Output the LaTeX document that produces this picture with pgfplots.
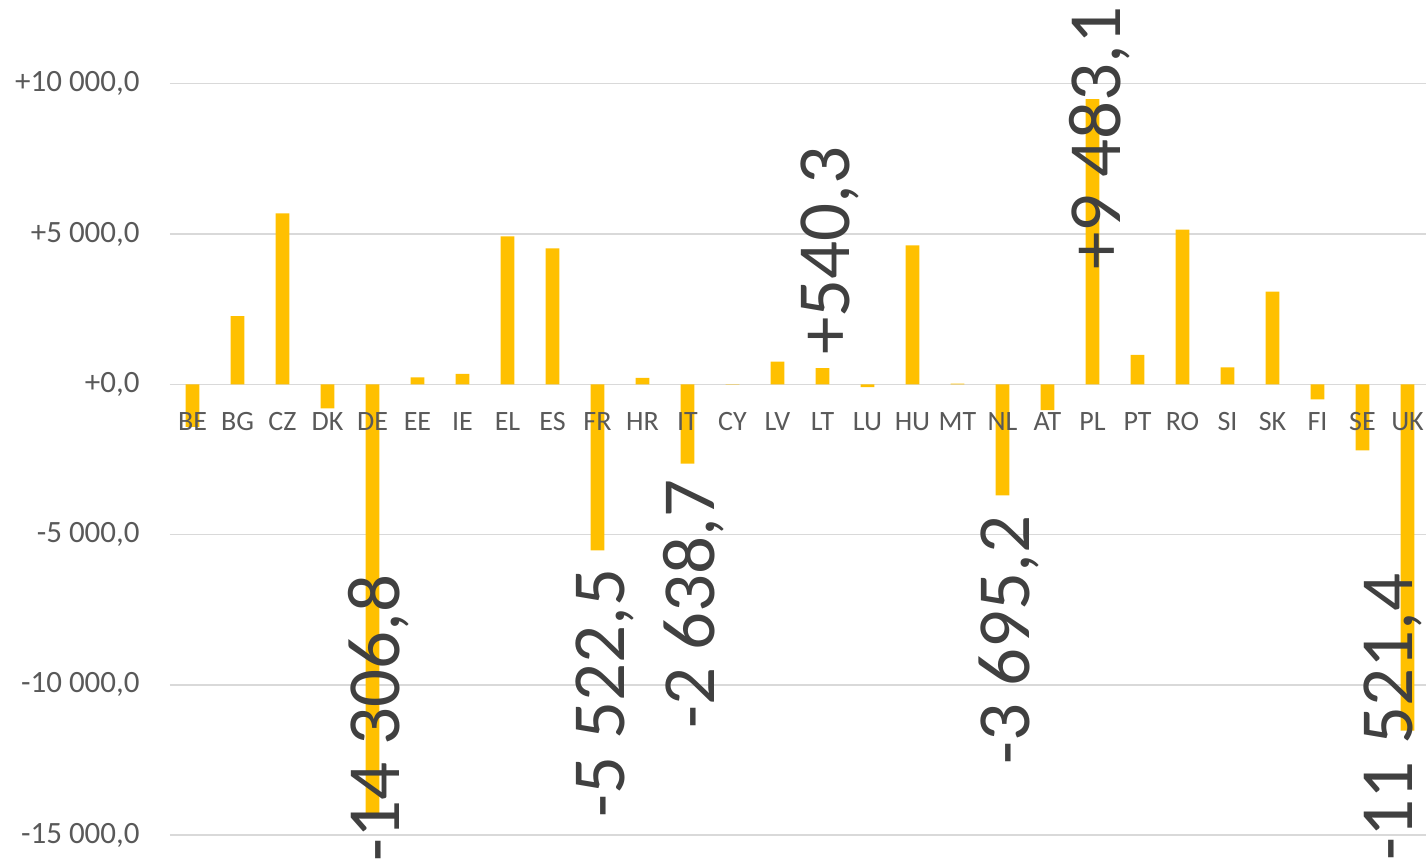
\documentclass[border=0pt]{standalone}
\usepackage{fontspec}
\setmainfont{Carlito}
\usepackage{pgfplots}
\pgfplotsset{compat=1.18}
\definecolor{bargold}{HTML}{FFC000}
\definecolor{gridgray}{HTML}{D9D9D9}
\definecolor{ticktext}{HTML}{595959}
\definecolor{labeltext}{HTML}{404040}
\tikzset{
  lbl/.style={rotate=90, inner sep=0pt, text=labeltext, font=\fontsize{37.5}{38}\selectfont, anchor=base east},
  catlbl/.style={inner sep=0pt, text=ticktext, font=\fontsize{14}{14}\selectfont, anchor=center, yshift=-18.7pt},
}
\begin{document}
\begin{tikzpicture}
\begin{axis}[
  scale only axis, width=630pt, height=429.5pt,
  xmin=-0.5, xmax=27.5, ymin=-15791.7, ymax=12784.4,
  axis line style={draw=none},
  major tick length=0pt,
  xtick=\empty,
  ytick={-15000,-10000,-5000,0,5000,10000},
  yticklabels={{-15 000,0},{-10 000,0},{-5 000,0},{+0,0},{+5 000,0},{+10 000,0}},
  yticklabel style={font=\fontsize{15.5}{15.5}\selectfont, text=ticktext, anchor=east, inner sep=0pt, xshift=-15pt},
  ymajorgrids, grid style={draw=gridgray, line width=0.75pt},
  clip=false,
  ybar, bar width=6.9pt, bar shift=0pt,
]
\addplot[fill=bargold, draw=none] coordinates {
 (0,-1420) (1,2270) (2,5690) (3,-800) (4,-14306.8) (5,233) (6,343)
 (7,4923) (8,4524) (9,-5522.5) (10,210) (11,-2638.7) (12,5) (13,752)
 (14,540.3) (15,-90) (16,4624) (17,25) (18,-3695.2) (19,-855) (20,9483.1)
 (21,975) (22,5143) (23,565) (24,3081) (25,-499) (26,-2196) (27,-11521.4)
};
\foreach \n [count=\i from 0] in {BE,BG,CZ,DK,DE,EE,IE,EL,ES,FR,HR,IT,CY,LV,LT,LU,HU,MT,NL,AT,PL,PT,RO,SI,SK,FI,SE,UK}{
  \edef\temp{\noexpand\node[catlbl] at (axis cs:\i,0) {\n};}
  \temp
}
\coordinate (bbl) at (axis cs:-4.2778,-15791.7);
\coordinate (btr) at (axis cs:27.4111,12784.4);
\node[lbl] at (axis cs:4.611,-6311) {-14 306,8};
\node[lbl] at (axis cs:9.611,-6111) {-5 522,5};
\node[lbl] at (axis cs:11.611,-3150) {-2 638,7};
\node[lbl] at (axis cs:14.611,7924) {+540,3};
\node[lbl] at (axis cs:18.611,-4368) {-3 695,2};
\node[lbl] at (axis cs:20.611,12585) {+9 483,1};
\node[lbl] at (axis cs:27.122,-6278) {-11 521,4};
\end{axis}
\pgfresetboundingbox
\useasboundingbox (bbl) rectangle (btr);
\end{tikzpicture}
\end{document}
